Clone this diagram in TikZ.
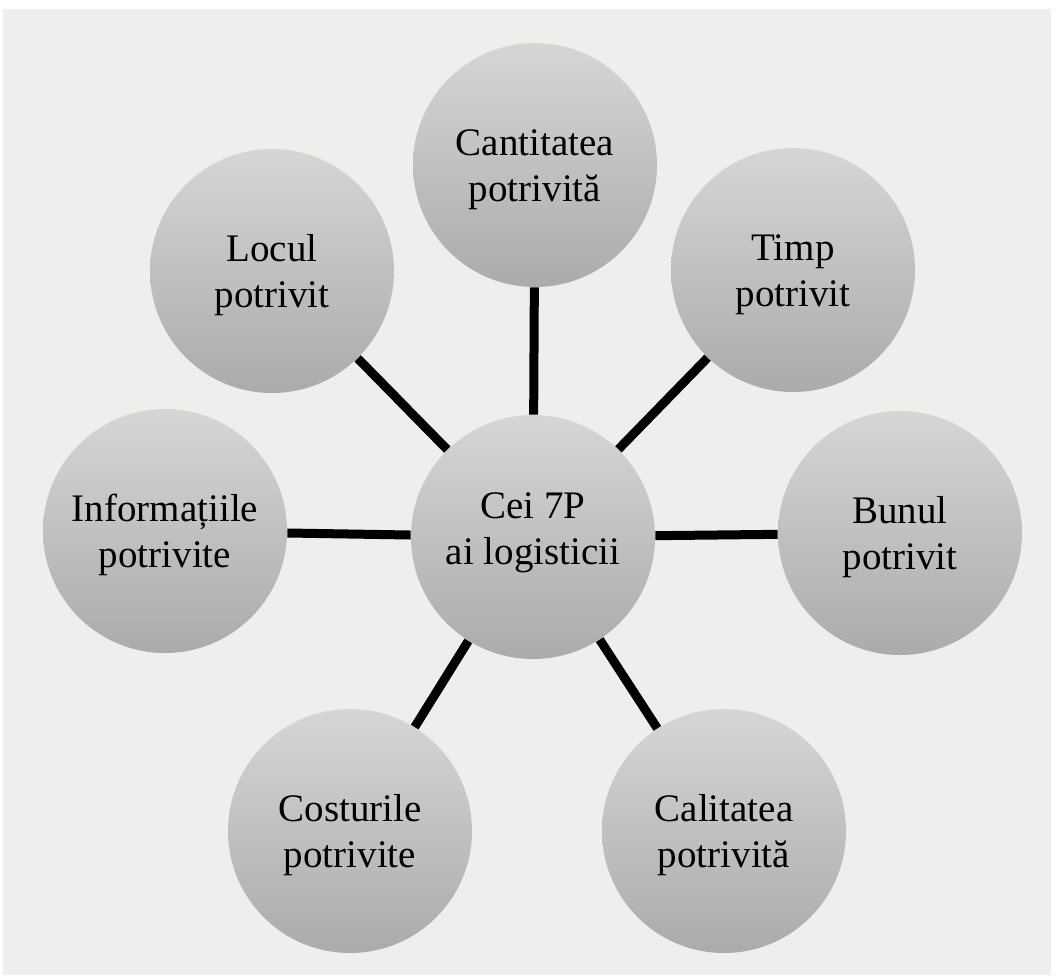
\documentclass[tikz,border=0pt]{standalone}
\usepackage{fontspec}
\setmainfont{Liberation Serif}
\definecolor{paper}{HTML}{EEEEEC}
\definecolor{balltop}{HTML}{D6D6D6}
\definecolor{ballbot}{HTML}{ABABAB}
\newcommand\topstrut{\rule{0pt}{18pt}}
\newcommand\botstrut{\rule[-5pt]{0pt}{5pt}}
\newcommand\hubtop{\rule{0pt}{14pt}}
\newcommand\hubbot{\rule[-10pt]{0pt}{10pt}}
\begin{document}
\begin{tikzpicture}[x=0.5pt,y=-0.5pt,
  ball/.style={circle,minimum size=122pt,inner sep=0pt,align=center,
    top color=balltop,bottom color=ballbot,shading angle=0,
    font=\fontsize{19.5}{23}\selectfont},
  link/.style={line width=4.5pt,black}]
\useasboundingbox (0,0) rectangle (1059,975);
\fill[white] (0,0) rectangle (1059,975);
\fill[paper] (3,9) rectangle (1051,975);
\node[ball] (hub) at (533,537) {\hubtop Cei 7P\\ai logisticii\hubbot};
\node[ball] (cant) at (535,165) {\topstrut Cantitatea\\potrivită\botstrut};
\node[ball] (loc) at (272,271) {\topstrut Locul\\potrivit\botstrut};
\node[ball] (timp) at (793,270) {\topstrut Timp\\potrivit\botstrut};
\node[ball] (info) at (165,531) {\topstrut Informațiile\\potrivite\botstrut};
\node[ball] (bun) at (900,533) {\topstrut Bunul\\potrivit\botstrut};
\node[ball] (cost) at (350,831) {\topstrut Costurile\\potrivite\botstrut};
\node[ball] (cal) at (724,831) {\topstrut Calitatea\\potrivită\botstrut};
\foreach \n in {cant,loc,timp,info,bun,cost,cal}
  \draw[link] (hub) -- (\n);
\end{tikzpicture}
\end{document}
